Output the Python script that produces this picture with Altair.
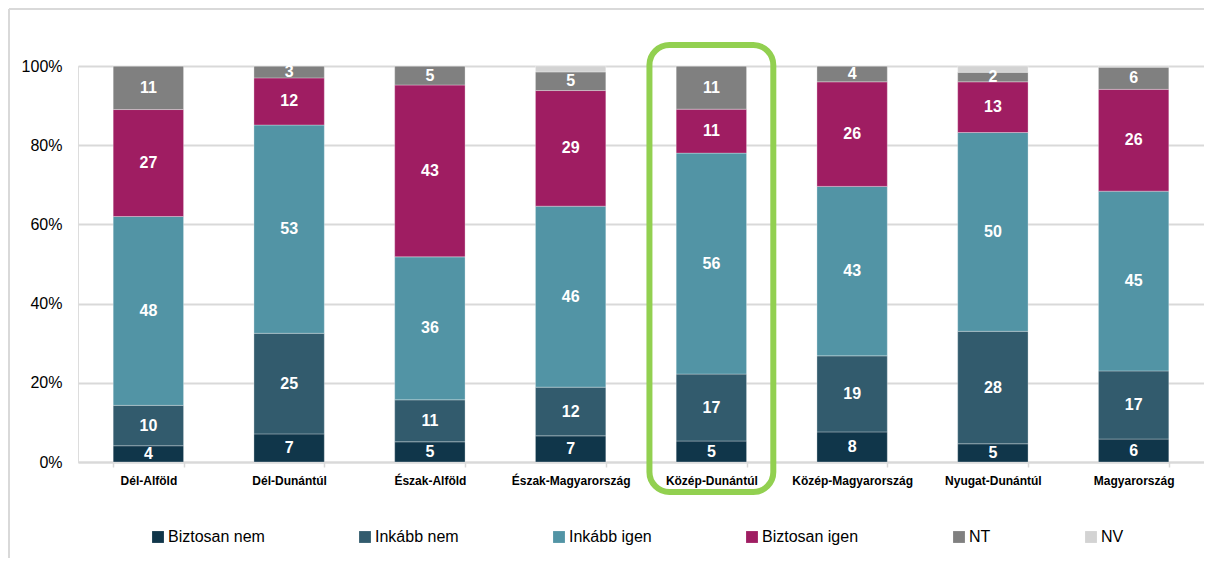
import altair as alt
import pandas as pd

regions = ["Dél-Alföld", "Dél-Dunántúl", "Észak-Alföld", "Észak-Magyarország",
           "Közép-Dunántúl", "Közép-Magyarország", "Nyugat-Dunántúl", "Magyarország"]
categories = ["Biztosan nem", "Inkább nem", "Inkább igen", "Biztosan igen", "NT", "NV"]
colors = ["#10364a", "#325b6d", "#5294a5", "#9f1d62", "#808080", "#d3d3d3"]

biztosan_nem = [4.1, 7.1, 5.1, 6.6, 5.3, 7.6, 4.6, 5.8]
inkabb_nem = [10.2, 25.4, 10.6, 12.3, 16.9, 19.2, 28.4, 17.2]
inkabb_igen = [47.7, 52.6, 36.1, 45.7, 55.8, 42.8, 50.2, 45.4]
biztosan_igen = [27.0, 11.9, 43.4, 29.2, 11.1, 26.4, 12.8, 25.7]
nt = [11.0, 3.0, 4.8, 4.7, 10.9, 4.0, 2.4, 5.6]
nv = [0.0, 0.0, 0.0, 1.5, 0.0, 0.0, 1.6, 0.3]

highlight_region = "Közép-Dunántúl"

series = [biztosan_nem, inkabb_nem, inkabb_igen, biztosan_igen, nt, nv]
rows = []
for j, cat in enumerate(categories):
    for i, reg in enumerate(regions):
        rows.append({"region": reg, "cat": cat, "order": j, "value": series[j][i] / 100.0})
df = pd.DataFrame(rows)

FONT = "Liberation Sans"

x_enc = alt.X("region:N", sort=regions, title=None,
              scale=alt.Scale(paddingInner=0.5, paddingOuter=0.25),
              axis=alt.Axis(labelAngle=0, labelFont=FONT, labelFontSize=12,
                            labelFontWeight="bold", labelColor="#000000",
                            labelPadding=8, domainColor="#d9d9d9", domainWidth=2,
                            tickColor="#d9d9d9", tickWidth=1.5, tickSize=5,
                            tickBand="extent", grid=False))
y_scale = alt.Scale(domain=[0, 1], nice=False)

bars = alt.Chart(df).mark_bar(stroke="#ffffff", strokeWidth=1, strokeOpacity=0.3).encode(
    x=x_enc,
    y=alt.Y("value:Q", stack="zero", scale=y_scale, title=None,
            axis=alt.Axis(format=".0%", values=[0, 0.2, 0.4, 0.6, 0.8, 1.0],
                          labelFont=FONT, labelFontSize=16, labelColor="#000000",
                          labelPadding=16, ticks=False, domain=False,
                          gridColor="#d9d9d9", gridWidth=2)),
    color=alt.Color("cat:N", sort=categories,
                    scale=alt.Scale(domain=categories, range=colors),
                    legend=alt.Legend(title=None, orient="none", legendX=72, legendY=463,
                                      direction="horizontal",
                                      columns=6, symbolType="square", symbolSize=140,
                                      symbolStrokeWidth=0, labelFont=FONT, labelFontSize=16,
                                      labelColor="#000000", columnPadding=92,
                                      labelOffset=2)),
    order=alt.Order("order:Q", sort="ascending"),
)

labels = alt.Chart(df).transform_stack(
    stack="value", groupby=["region"], as_=["y0", "y1"],
    sort=[alt.SortField("order", order="ascending")]
).transform_calculate(
    mid="(datum.y0 + datum.y1) / 2", pct="datum.value * 100"
).transform_filter(
    alt.datum.cat != "NV"
).mark_text(font=FONT, fontSize=16, fontWeight="bold", color="#ffffff", baseline="middle").encode(
    x=alt.X("region:N", sort=regions),
    y=alt.Y("mid:Q", scale=y_scale),
    text=alt.Text("pct:Q", format=".0f"),
)

box_df = pd.DataFrame({"region": [highlight_region], "top": [1.053], "bottom": [-0.076]})
box = alt.Chart(box_df).mark_bar(filled=False, stroke="#92d050", strokeWidth=6,
                                 cornerRadius=20, width=alt.RelativeBandSize(1.76),
                                 clip=False).encode(
    x=alt.X("region:N", sort=regions),
    y=alt.Y("top:Q", scale=y_scale),
    y2="bottom:Q",
)

frame_left = alt.Chart(box_df).mark_rule(color="#d9d9d9", strokeWidth=2).encode(
    x=alt.value(-69), y=alt.value(-57), y2=alt.value(510))
frame_top = alt.Chart(box_df).mark_rule(color="#d9d9d9", strokeWidth=2).encode(
    x=alt.value(-69), x2=alt.value(1130), y=alt.value(-57))

chart = alt.layer(frame_left, frame_top, bars, labels, box).properties(
    width=1126, height=396,
    autosize=alt.AutoSizeParams(type="none"),
    padding={"left": 70, "top": 58, "right": 0, "bottom": 96},
).configure_view(stroke=None).configure(background="#ffffff")

chart.save("out.html", embed_options={"renderer": "svg", "actions": False})
